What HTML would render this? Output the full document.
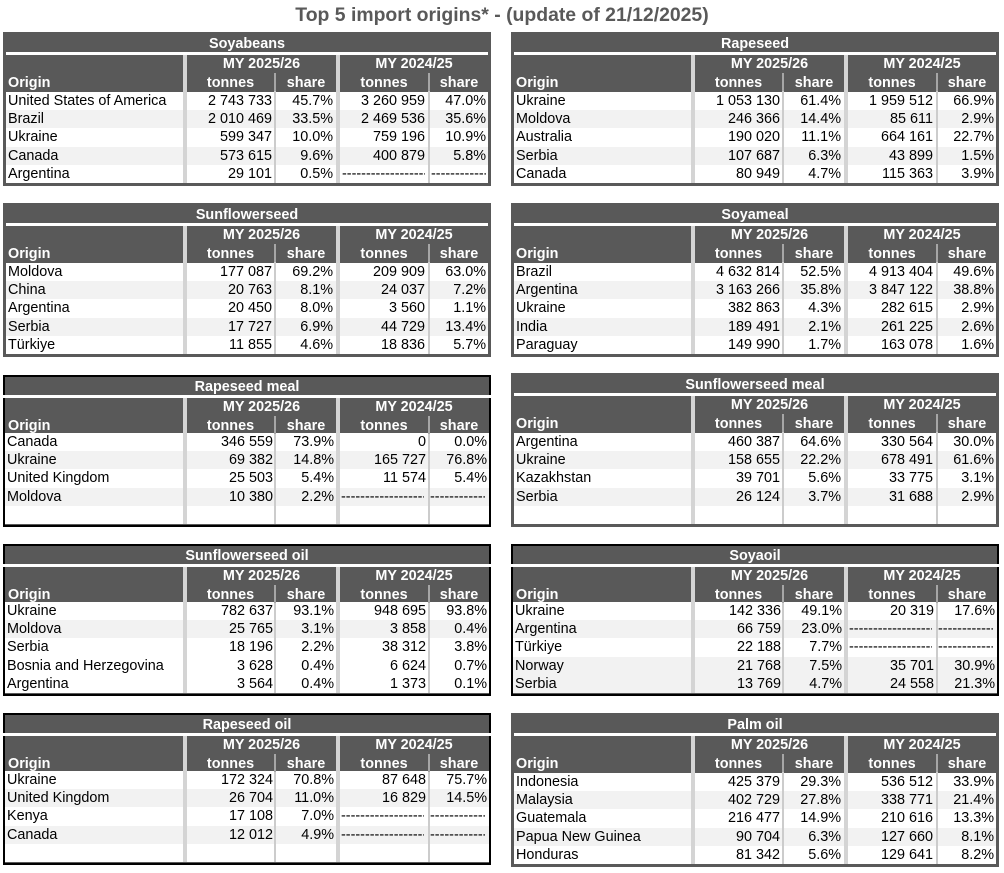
<!DOCTYPE html>
<html><head><meta charset="utf-8">
<style>
*{margin:0;padding:0;box-sizing:border-box}
body{width:1004px;height:873px;background:#fff;position:relative;overflow:hidden;font-family:"Liberation Sans",Arial,sans-serif;font-size:14.4px;color:#000}
.pt{position:absolute;left:0;top:3px;width:1004px;text-align:center;font-weight:bold;font-size:19.4px;line-height:24px;color:#595959}
.t{position:absolute;width:488px;background:#595959;overflow:hidden}
.t.b::after{content:"";position:absolute;left:0;top:0;right:0;bottom:0;border:2px solid #000;z-index:9}
.ti{position:absolute;left:0;width:488px;top:1.5px;height:20px;line-height:20px;text-align:center;color:#fff;font-weight:bold}
.wl{position:absolute;left:3px;width:482px;top:20px;height:3px;background:#fff;z-index:10}
.t.b .wl{left:0;width:488px}
.h{position:absolute;color:#fff;font-weight:bold;line-height:18px;height:18px;white-space:nowrap}
.my1{left:184px;width:149px;top:22.5px;text-align:center}
.my2{left:337px;width:148px;top:22.5px;text-align:center}
.og{left:5px;top:41.5px}
.tn1{left:184px;width:87px;top:41.5px;text-align:center}
.sh1{left:273px;width:60px;top:41.5px;text-align:center}
.tn2{left:337px;width:88px;top:41.5px;text-align:center}
.sh2{left:427px;width:58px;top:41.5px;text-align:center}
.d{position:absolute;left:3px;width:482px;bottom:3px;height:91px}
.t.b .d{left:2px;width:484px}
.r{position:relative;height:18.2px;background:#fff}
.r.g{background:#f2f2f2}
.r span{position:absolute;top:1px;line-height:16px;white-space:nowrap}
.c1{left:2px}
.c2{right:216px}
.c3{right:155px}
.c4{right:63px}
.c5{right:2px}
.x4{left:336px;width:83px;overflow:hidden}
.x5{left:425px;width:55px;overflow:hidden}
.s1,.s3{position:absolute;width:4px;top:20px;bottom:3px;background:#d4d4d4;z-index:5}
.s1{left:180px}
.s3{left:333px}
.s2,.s4{position:absolute;width:2px;top:41px;bottom:3px;background:linear-gradient(#a6a6a6 0,#a6a6a6 18px,#cccccc 18px);z-index:5}
.s2{left:271px}
.s4{left:425px}
</style></head><body>
<div class="pt">Top 5 import origins* - (update of 21/12/2025)</div>

<!-- Soyabeans -->
<div class="t" style="left:3px;top:32px;height:154px">
<div class="ti">Soyabeans</div><div class="wl"></div>
<div class="h my1">MY 2025/26</div><div class="h my2">MY 2024/25</div>
<div class="h og">Origin</div><div class="h tn1">tonnes</div><div class="h sh1">share</div><div class="h tn2">tonnes</div><div class="h sh2">share</div>
<div class="d">
<div class="r"><span class="c1">United States of America</span><span class="c2">2 743 733</span><span class="c3">45.7%</span><span class="c4">3 260 959</span><span class="c5">47.0%</span></div>
<div class="r g"><span class="c1">Brazil</span><span class="c2">2 010 469</span><span class="c3">33.5%</span><span class="c4">2 469 536</span><span class="c5">35.6%</span></div>
<div class="r"><span class="c1">Ukraine</span><span class="c2">599 347</span><span class="c3">10.0%</span><span class="c4">759 196</span><span class="c5">10.9%</span></div>
<div class="r g"><span class="c1">Canada</span><span class="c2">573 615</span><span class="c3">9.6%</span><span class="c4">400 879</span><span class="c5">5.8%</span></div>
<div class="r"><span class="c1">Argentina</span><span class="c2">29 101</span><span class="c3">0.5%</span><span class="x4">------------------------</span><span class="x5">----------------</span></div>
</div>
<div class="s1"></div><div class="s2"></div><div class="s3"></div><div class="s4"></div>
</div>

<!-- Rapeseed -->
<div class="t" style="left:511px;top:32px;height:154px">
<div class="ti">Rapeseed</div><div class="wl"></div>
<div class="h my1">MY 2025/26</div><div class="h my2">MY 2024/25</div>
<div class="h og">Origin</div><div class="h tn1">tonnes</div><div class="h sh1">share</div><div class="h tn2">tonnes</div><div class="h sh2">share</div>
<div class="d">
<div class="r"><span class="c1">Ukraine</span><span class="c2">1 053 130</span><span class="c3">61.4%</span><span class="c4">1 959 512</span><span class="c5">66.9%</span></div>
<div class="r g"><span class="c1">Moldova</span><span class="c2">246 366</span><span class="c3">14.4%</span><span class="c4">85 611</span><span class="c5">2.9%</span></div>
<div class="r"><span class="c1">Australia</span><span class="c2">190 020</span><span class="c3">11.1%</span><span class="c4">664 161</span><span class="c5">22.7%</span></div>
<div class="r g"><span class="c1">Serbia</span><span class="c2">107 687</span><span class="c3">6.3%</span><span class="c4">43 899</span><span class="c5">1.5%</span></div>
<div class="r"><span class="c1">Canada</span><span class="c2">80 949</span><span class="c3">4.7%</span><span class="c4">115 363</span><span class="c5">3.9%</span></div>
</div>
<div class="s1"></div><div class="s2"></div><div class="s3"></div><div class="s4"></div>
</div>

<!-- Sunflowerseed -->
<div class="t" style="left:3px;top:203px;height:154px">
<div class="ti">Sunflowerseed</div><div class="wl"></div>
<div class="h my1">MY 2025/26</div><div class="h my2">MY 2024/25</div>
<div class="h og">Origin</div><div class="h tn1">tonnes</div><div class="h sh1">share</div><div class="h tn2">tonnes</div><div class="h sh2">share</div>
<div class="d">
<div class="r"><span class="c1">Moldova</span><span class="c2">177 087</span><span class="c3">69.2%</span><span class="c4">209 909</span><span class="c5">63.0%</span></div>
<div class="r g"><span class="c1">China</span><span class="c2">20 763</span><span class="c3">8.1%</span><span class="c4">24 037</span><span class="c5">7.2%</span></div>
<div class="r"><span class="c1">Argentina</span><span class="c2">20 450</span><span class="c3">8.0%</span><span class="c4">3 560</span><span class="c5">1.1%</span></div>
<div class="r g"><span class="c1">Serbia</span><span class="c2">17 727</span><span class="c3">6.9%</span><span class="c4">44 729</span><span class="c5">13.4%</span></div>
<div class="r"><span class="c1">Türkiye</span><span class="c2">11 855</span><span class="c3">4.6%</span><span class="c4">18 836</span><span class="c5">5.7%</span></div>
</div>
<div class="s1"></div><div class="s2"></div><div class="s3"></div><div class="s4"></div>
</div>

<!-- Soyameal -->
<div class="t" style="left:511px;top:203px;height:154px">
<div class="ti">Soyameal</div><div class="wl"></div>
<div class="h my1">MY 2025/26</div><div class="h my2">MY 2024/25</div>
<div class="h og">Origin</div><div class="h tn1">tonnes</div><div class="h sh1">share</div><div class="h tn2">tonnes</div><div class="h sh2">share</div>
<div class="d">
<div class="r"><span class="c1">Brazil</span><span class="c2">4 632 814</span><span class="c3">52.5%</span><span class="c4">4 913 404</span><span class="c5">49.6%</span></div>
<div class="r g"><span class="c1">Argentina</span><span class="c2">3 163 266</span><span class="c3">35.8%</span><span class="c4">3 847 122</span><span class="c5">38.8%</span></div>
<div class="r"><span class="c1">Ukraine</span><span class="c2">382 863</span><span class="c3">4.3%</span><span class="c4">282 615</span><span class="c5">2.9%</span></div>
<div class="r g"><span class="c1">India</span><span class="c2">189 491</span><span class="c3">2.1%</span><span class="c4">261 225</span><span class="c5">2.6%</span></div>
<div class="r"><span class="c1">Paraguay</span><span class="c2">149 990</span><span class="c3">1.7%</span><span class="c4">163 078</span><span class="c5">1.6%</span></div>
</div>
<div class="s1"></div><div class="s2"></div><div class="s3"></div><div class="s4"></div>
</div>

<!-- Rapeseed meal -->
<div class="t b" style="left:3px;top:375px;height:152px">
<div class="ti">Rapeseed meal</div><div class="wl"></div>
<div class="h my1">MY 2025/26</div><div class="h my2">MY 2024/25</div>
<div class="h og">Origin</div><div class="h tn1">tonnes</div><div class="h sh1">share</div><div class="h tn2">tonnes</div><div class="h sh2">share</div>
<div class="d">
<div class="r"><span class="c1">Canada</span><span class="c2">346 559</span><span class="c3">73.9%</span><span class="c4">0</span><span class="c5">0.0%</span></div>
<div class="r g"><span class="c1">Ukraine</span><span class="c2">69 382</span><span class="c3">14.8%</span><span class="c4">165 727</span><span class="c5">76.8%</span></div>
<div class="r"><span class="c1">United Kingdom</span><span class="c2">25 503</span><span class="c3">5.4%</span><span class="c4">11 574</span><span class="c5">5.4%</span></div>
<div class="r g"><span class="c1">Moldova</span><span class="c2">10 380</span><span class="c3">2.2%</span><span class="x4">------------------------</span><span class="x5">----------------</span></div>
<div class="r"></div>
</div>
<div class="s1"></div><div class="s2"></div><div class="s3"></div><div class="s4"></div>
</div>

<!-- Sunflowerseed meal -->
<div class="t" style="left:511px;top:373px;height:154px">
<div class="ti">Sunflowerseed meal</div><div class="wl"></div>
<div class="h my1">MY 2025/26</div><div class="h my2">MY 2024/25</div>
<div class="h og">Origin</div><div class="h tn1">tonnes</div><div class="h sh1">share</div><div class="h tn2">tonnes</div><div class="h sh2">share</div>
<div class="d">
<div class="r"><span class="c1">Argentina</span><span class="c2">460 387</span><span class="c3">64.6%</span><span class="c4">330 564</span><span class="c5">30.0%</span></div>
<div class="r g"><span class="c1">Ukraine</span><span class="c2">158 655</span><span class="c3">22.2%</span><span class="c4">678 491</span><span class="c5">61.6%</span></div>
<div class="r"><span class="c1">Kazakhstan</span><span class="c2">39 701</span><span class="c3">5.6%</span><span class="c4">33 775</span><span class="c5">3.1%</span></div>
<div class="r g"><span class="c1">Serbia</span><span class="c2">26 124</span><span class="c3">3.7%</span><span class="c4">31 688</span><span class="c5">2.9%</span></div>
<div class="r"></div>
</div>
<div class="s1"></div><div class="s2"></div><div class="s3"></div><div class="s4"></div>
</div>

<!-- Sunflowerseed oil -->
<div class="t b" style="left:3px;top:544px;height:152px">
<div class="ti">Sunflowerseed oil</div><div class="wl"></div>
<div class="h my1">MY 2025/26</div><div class="h my2">MY 2024/25</div>
<div class="h og">Origin</div><div class="h tn1">tonnes</div><div class="h sh1">share</div><div class="h tn2">tonnes</div><div class="h sh2">share</div>
<div class="d">
<div class="r"><span class="c1">Ukraine</span><span class="c2">782 637</span><span class="c3">93.1%</span><span class="c4">948 695</span><span class="c5">93.8%</span></div>
<div class="r g"><span class="c1">Moldova</span><span class="c2">25 765</span><span class="c3">3.1%</span><span class="c4">3 858</span><span class="c5">0.4%</span></div>
<div class="r"><span class="c1">Serbia</span><span class="c2">18 196</span><span class="c3">2.2%</span><span class="c4">38 312</span><span class="c5">3.8%</span></div>
<div class="r"><span class="c1">Bosnia and Herzegovina</span><span class="c2">3 628</span><span class="c3">0.4%</span><span class="c4">6 624</span><span class="c5">0.7%</span></div>
<div class="r"><span class="c1">Argentina</span><span class="c2">3 564</span><span class="c3">0.4%</span><span class="c4">1 373</span><span class="c5">0.1%</span></div>
</div>
<div class="s1"></div><div class="s2"></div><div class="s3"></div><div class="s4"></div>
</div>

<!-- Soyaoil -->
<div class="t b" style="left:511px;top:544px;height:152px">
<div class="ti">Soyaoil</div><div class="wl"></div>
<div class="h my1">MY 2025/26</div><div class="h my2">MY 2024/25</div>
<div class="h og">Origin</div><div class="h tn1">tonnes</div><div class="h sh1">share</div><div class="h tn2">tonnes</div><div class="h sh2">share</div>
<div class="d">
<div class="r"><span class="c1">Ukraine</span><span class="c2">142 336</span><span class="c3">49.1%</span><span class="c4">20 319</span><span class="c5">17.6%</span></div>
<div class="r g"><span class="c1">Argentina</span><span class="c2">66 759</span><span class="c3">23.0%</span><span class="x4">------------------------</span><span class="x5">----------------</span></div>
<div class="r"><span class="c1">Türkiye</span><span class="c2">22 188</span><span class="c3">7.7%</span><span class="x4">------------------------</span><span class="x5">----------------</span></div>
<div class="r g"><span class="c1">Norway</span><span class="c2">21 768</span><span class="c3">7.5%</span><span class="c4">35 701</span><span class="c5">30.9%</span></div>
<div class="r g"><span class="c1">Serbia</span><span class="c2">13 769</span><span class="c3">4.7%</span><span class="c4">24 558</span><span class="c5">21.3%</span></div>
</div>
<div class="s1"></div><div class="s2"></div><div class="s3"></div><div class="s4"></div>
</div>

<!-- Rapeseed oil -->
<div class="t b" style="left:3px;top:713px;height:152px">
<div class="ti">Rapeseed oil</div><div class="wl"></div>
<div class="h my1">MY 2025/26</div><div class="h my2">MY 2024/25</div>
<div class="h og">Origin</div><div class="h tn1">tonnes</div><div class="h sh1">share</div><div class="h tn2">tonnes</div><div class="h sh2">share</div>
<div class="d">
<div class="r"><span class="c1">Ukraine</span><span class="c2">172 324</span><span class="c3">70.8%</span><span class="c4">87 648</span><span class="c5">75.7%</span></div>
<div class="r g"><span class="c1">United Kingdom</span><span class="c2">26 704</span><span class="c3">11.0%</span><span class="c4">16 829</span><span class="c5">14.5%</span></div>
<div class="r"><span class="c1">Kenya</span><span class="c2">17 108</span><span class="c3">7.0%</span><span class="x4">------------------------</span><span class="x5">----------------</span></div>
<div class="r g"><span class="c1">Canada</span><span class="c2">12 012</span><span class="c3">4.9%</span><span class="x4">------------------------</span><span class="x5">----------------</span></div>
<div class="r"></div>
</div>
<div class="s1"></div><div class="s2"></div><div class="s3"></div><div class="s4"></div>
</div>

<!-- Palm oil -->
<div class="t" style="left:511px;top:713px;height:154px">
<div class="ti">Palm oil</div><div class="wl"></div>
<div class="h my1">MY 2025/26</div><div class="h my2">MY 2024/25</div>
<div class="h og">Origin</div><div class="h tn1">tonnes</div><div class="h sh1">share</div><div class="h tn2">tonnes</div><div class="h sh2">share</div>
<div class="d">
<div class="r"><span class="c1">Indonesia</span><span class="c2">425 379</span><span class="c3">29.3%</span><span class="c4">536 512</span><span class="c5">33.9%</span></div>
<div class="r g"><span class="c1">Malaysia</span><span class="c2">402 729</span><span class="c3">27.8%</span><span class="c4">338 771</span><span class="c5">21.4%</span></div>
<div class="r"><span class="c1">Guatemala</span><span class="c2">216 477</span><span class="c3">14.9%</span><span class="c4">210 616</span><span class="c5">13.3%</span></div>
<div class="r g"><span class="c1">Papua New Guinea</span><span class="c2">90 704</span><span class="c3">6.3%</span><span class="c4">127 660</span><span class="c5">8.1%</span></div>
<div class="r"><span class="c1">Honduras</span><span class="c2">81 342</span><span class="c3">5.6%</span><span class="c4">129 641</span><span class="c5">8.2%</span></div>
</div>
<div class="s1"></div><div class="s2"></div><div class="s3"></div><div class="s4"></div>
</div>

</body></html>
